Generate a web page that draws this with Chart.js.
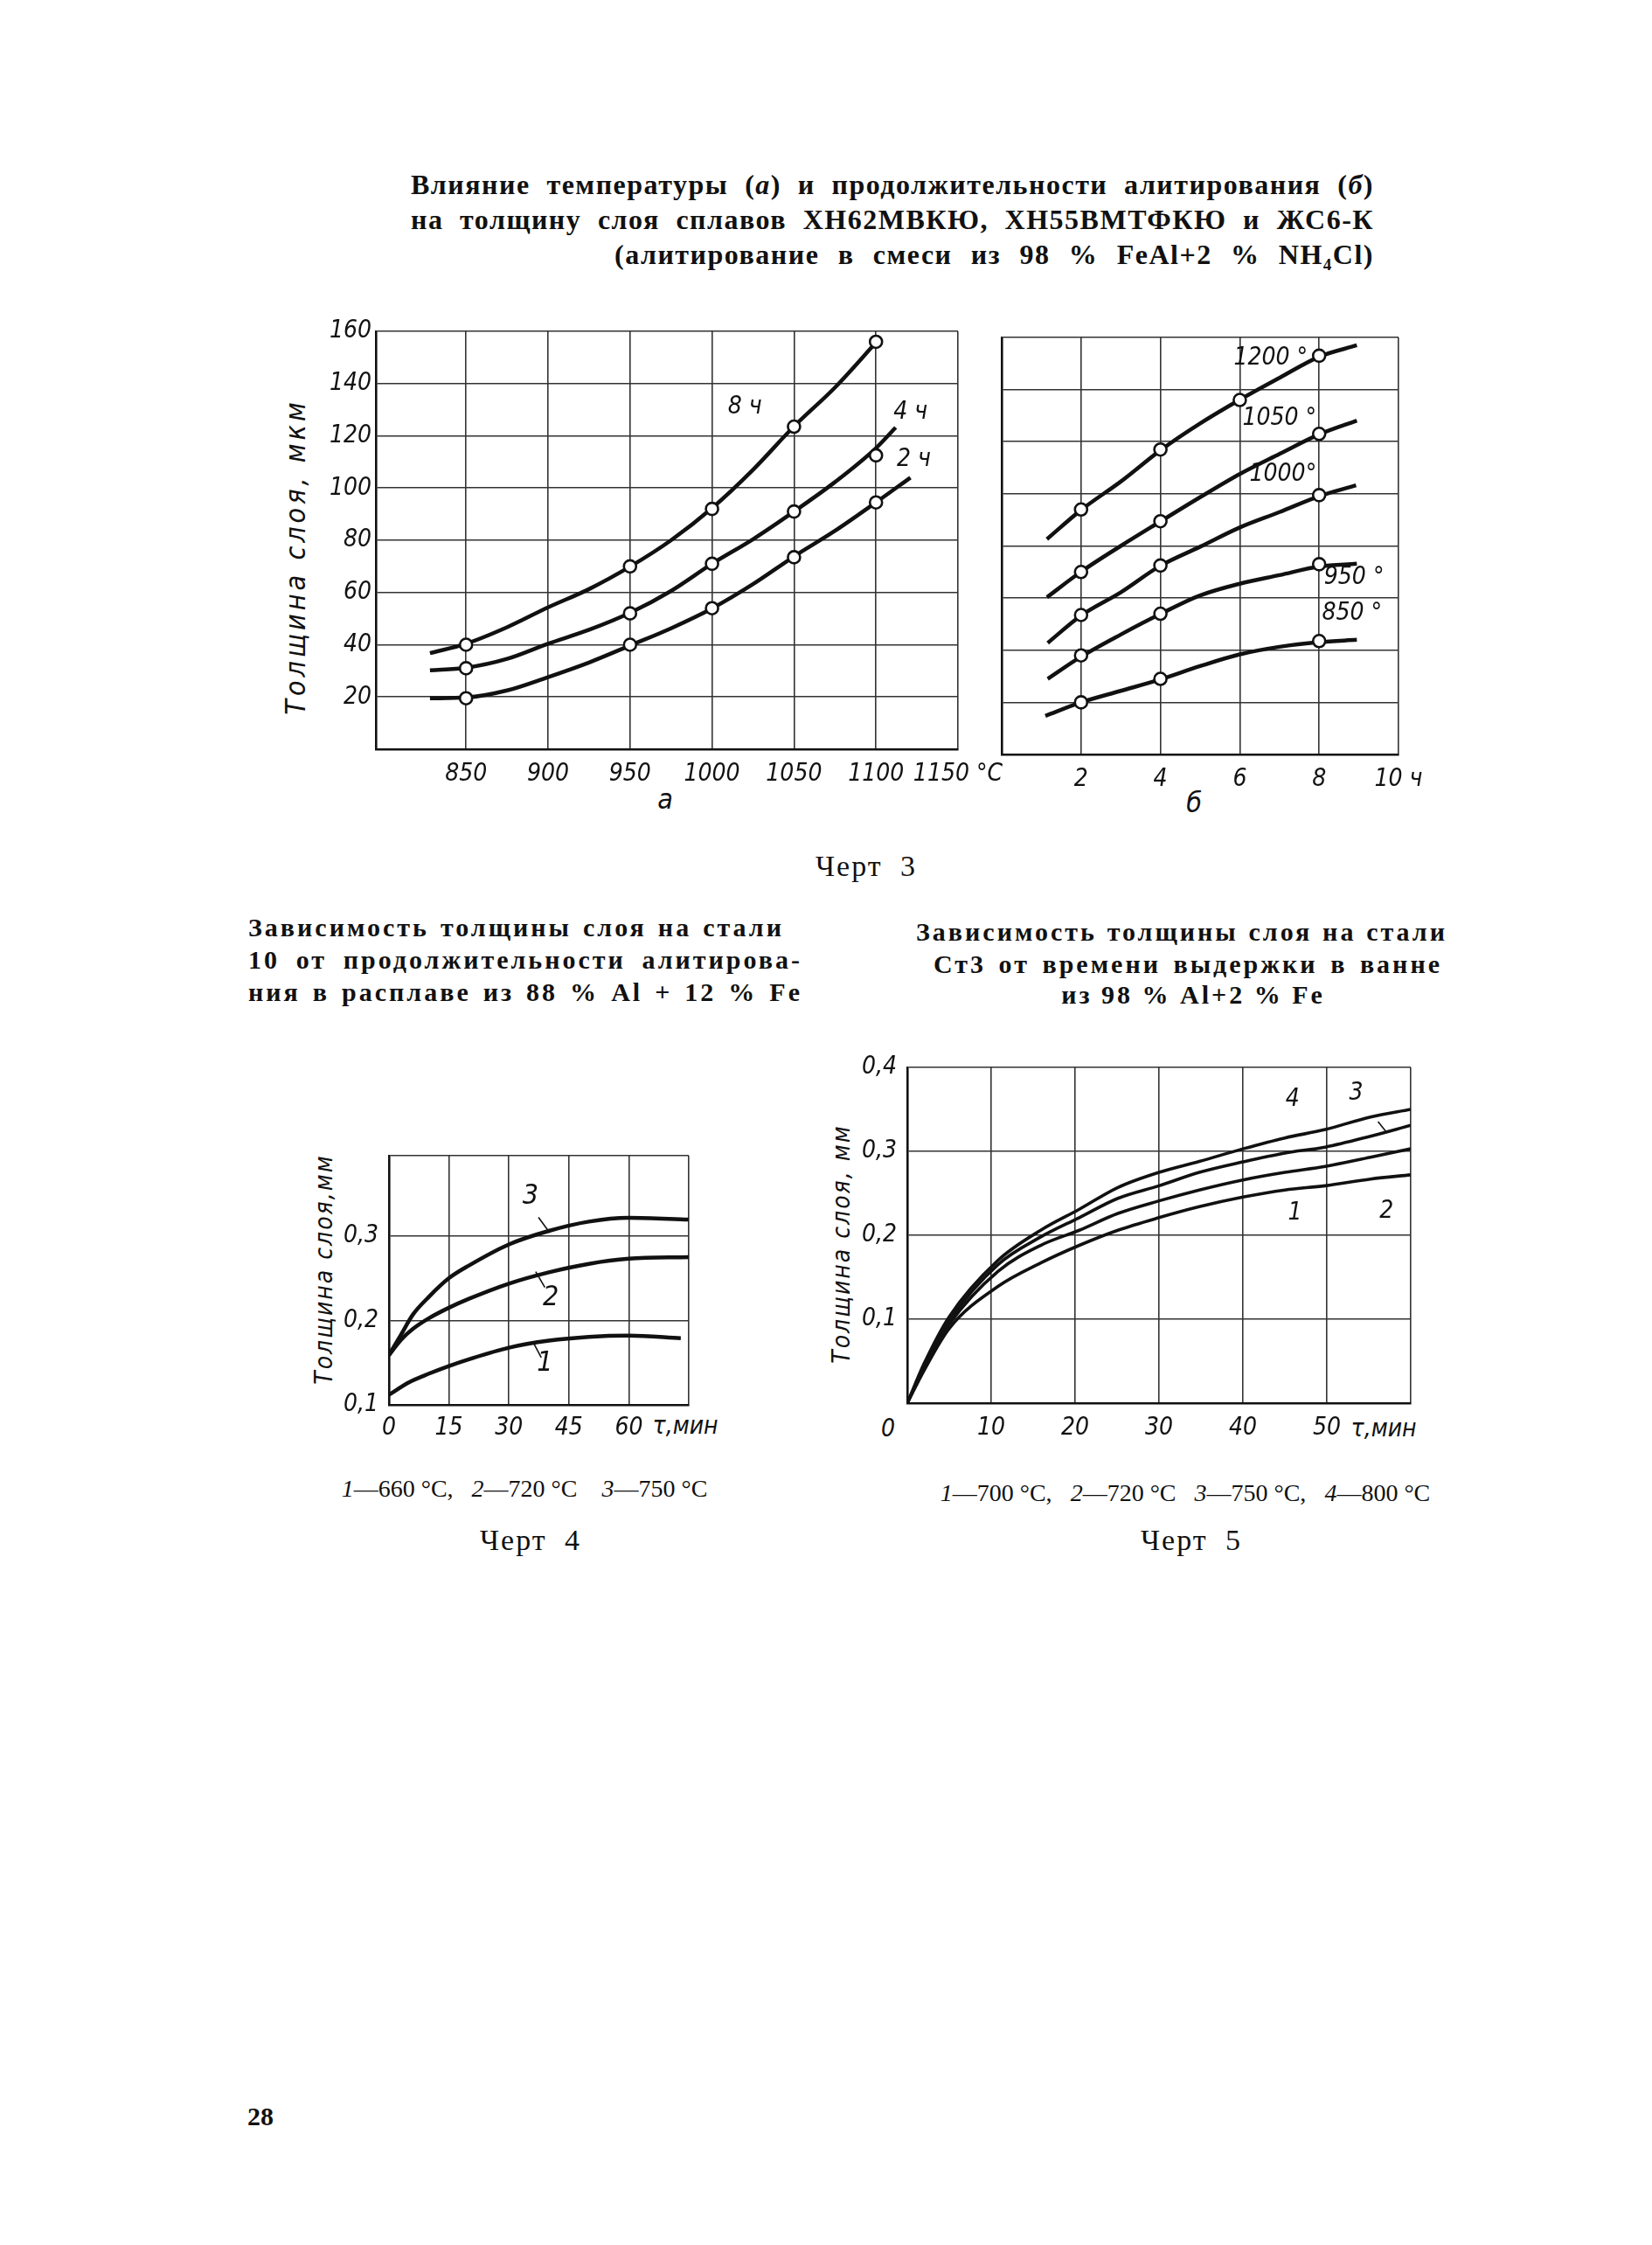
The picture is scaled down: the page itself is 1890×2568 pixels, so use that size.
<!DOCTYPE html>
<html lang="ru">
<head>
<meta charset="utf-8">
<title>Черт 3, 4, 5</title>
<script src="https://cdn.jsdelivr.net/npm/chart.js@4.4.1/dist/chart.umd.min.js"></script>
<style>
  html, body { margin: 0; padding: 0; background: #fff; }
  #page { position: relative; width: 1890px; height: 2568px; overflow: hidden; background: #fff; color: #111; }
  canvas { position: absolute; }
  .t { position: absolute; white-space: nowrap; line-height: 1; transform: translate(-50%, -50%); }
  .j { position: absolute; white-space: nowrap; text-align: justify; text-align-last: justify; line-height: 1.2; }
  .ax { font-family: "Liberation Sans Narrow", "DejaVu Sans Condensed", sans-serif; font-style: italic; }
  .rot { transform: translate(-50%, -50%) rotate(-90deg); }
  .h3 { font: bold 32px "Liberation Serif", "DejaVu Serif", serif; letter-spacing: 1.5px; }
  .hs { font: bold 30px "Liberation Serif", "DejaVu Serif", serif; letter-spacing: 3px; }
  .cap { font: 28px "Liberation Serif", "DejaVu Serif", serif; }
  .chert { font: 34px "Liberation Serif", "DejaVu Serif", serif; letter-spacing: 2px; word-spacing: 10px; }
</style>
</head>
<body>
<div id="page">
  <!-- Черт 3: заголовок -->
  <div class="j h3" style="left:470px; top:193px; width:1102px;">Влияние температуры (<i>а</i>) и продолжительности алитирования (<i>б</i>)</div>
  <div class="j h3" style="left:470px; top:233px; width:1102px;">на толщину слоя сплавов ХН62МВКЮ, ХН55ВМТФКЮ и ЖС6-К</div>
  <div class="j h3" style="left:703px; top:273px; width:869px;">(алитирование в смеси из 98 % FeAl+2 % NH<sub style="font-size:19px">4</sub>Cl)</div>

  <div class="t ax rot" style="left:338px; top:637px; font-size:32px; letter-spacing:4px;">Толщина слоя, мкм</div>
  <div class="t ax" style="left:761px; top:914px; font-size:32px;">а</div>
  <div class="t ax" style="left:1366px; top:918px; font-size:32px;">б</div>
  <div class="t chert" style="left:991px; top:991px;">Черт 3</div>

  <!-- Черт 4 -->
  <div class="j hs" style="left:284px; top:1044px; width:613px;">Зависимость толщины слоя на стали</div>
  <div class="j hs" style="left:284px; top:1081px; width:634px;">10 от продолжительности алитирова-</div>
  <div class="j hs" style="left:284px; top:1118px; width:634px;">ния в расплаве из 88 % Al + 12 % Fe</div>
  <div class="t ax rot" style="left:371px; top:1452px; font-size:28px; letter-spacing:2px;">Толщина слоя,мм</div>
  <div class="t ax" style="left:784px; top:1631px; font-size:28px;">τ,мин</div>
  <div class="t cap" style="left:600px; top:1703px;"><i>1</i>—660 °C,&nbsp;&nbsp; <i>2</i>—720 °C&nbsp;&nbsp;&nbsp; <i>3</i>—750 °C</div>
  <div class="t chert" style="left:607px; top:1762px;">Черт 4</div>

  <!-- Черт 5 -->
  <div class="j hs" style="left:1048px; top:1049px; width:608px;">Зависимость толщины слоя на стали</div>
  <div class="j hs" style="left:1068px; top:1086px; width:582px;">Ст3 от времени выдержки в ванне</div>
  <div class="t hs" style="left:1365px; top:1138px;">из 98 % Al+2 % Fe</div>
  <div class="t ax rot" style="left:963px; top:1423px; font-size:28px; letter-spacing:2px;">Толщина слоя, мм</div>
  <div class="t ax" style="left:1016px; top:1634px; font-size:28px;">0</div>
  <div class="t ax" style="left:1583px; top:1634px; font-size:28px;">τ,мин</div>
  <div class="t cap" style="left:1356px; top:1708px;"><i>1</i>—700 °C,&nbsp;&nbsp; <i>2</i>—720 °C&nbsp;&nbsp; <i>3</i>—750 °C,&nbsp;&nbsp; <i>4</i>—800 °C</div>
  <div class="t chert" style="left:1363px; top:1762px;">Черт 5</div>

  <div class="t" style="left:298px; top:2421px; font: bold 30px 'Liberation Serif', serif;">28</div>
</div>

<script>
// ---- Черт 3а: толщина слоя (мкм) от температуры (°C) ----
const tempTicks = [850, 900, 950, 1000, 1050, 1100, 1150];
const thickTicks = [0, 20, 40, 60, 80, 100, 120, 140, 160];

const t8h = [828, 850, 875, 900, 925, 950, 975, 1000, 1025, 1050, 1075, 1100];
const v8h = [36.8, 40.4, 46.7, 54.3, 61.3, 69.9, 80.0, 92.3, 107.0, 123.6, 138.5, 155.7];
const t4h = [828, 850, 875, 900, 925, 950, 975, 1000, 1025, 1050, 1075, 1100, 1112];
const v4h = [30.2, 31.2, 34.6, 40.4, 45.7, 52.2, 60.6, 71.0, 80.4, 91.0, 102.3, 115.3, 123.2];
const t2h = [828, 850, 875, 900, 925, 950, 975, 1000, 1025, 1050, 1075, 1100, 1121];
const v2h = [19.5, 19.8, 22.5, 27.6, 33.2, 39.7, 46.3, 53.9, 63.2, 73.8, 83.6, 94.5, 104.0];

const mkTemp = [850, 950, 1000, 1050, 1100];
const mk8h = [40, 70, 92, 123.5, 156];
const mk4h = [31, 52, 71, 91, 112.5];
const mk2h = [19.5, 40, 54, 73.5, 94.5];

// ---- Черт 3б: толщина слоя (мкм) от продолжительности (ч) ----
const hourTicks = [2, 4, 6, 8, 10];
const hrs = [2, 3, 4, 5, 6, 7, 8];
const h1200 = [1.14].concat(hrs, [8.95]);
const v1200 = [82.6, 93.8, 104.7, 116.7, 127.0, 136.1, 144.5, 152.6, 157.0];
const h1050 = [1.14].concat(hrs, [8.95]);
const v1050 = [60.3, 70.1, 80.0, 89.4, 98.7, 107.6, 115.3, 122.8, 128.1];
const h1000 = [1.16].concat(hrs, [8.93]);
const v1000 = [42.8, 53.3, 62.2, 72.4, 79.7, 87.1, 93.0, 99.1, 103.3];
const h950 = [1.16].concat(hrs, [8.95]);
const v950 = [29.0, 37.5, 46.0, 53.9, 61.0, 65.5, 68.8, 72.1, 73.2];
const h850 = [1.1].concat(hrs, [8.95]);
const v850 = [14.8, 20.0, 24.4, 28.8, 33.9, 38.4, 41.3, 43.1, 44.0];

const mkH1200 = [2, 4, 6, 8];
const mk1200 = [94, 117, 136, 153];
const mkH = [2, 4, 8];
const mk1050 = [70, 89.5, 123];
const mk1000 = [53.5, 72.5, 99.5];
const mk950 = [38, 54, 73];
const mk850 = [20, 29, 43.5];

// ---- Черт 4: сталь 10, толщина (мм) от времени (мин) ----
const minTicks4 = [0, 15, 30, 45, 60, 75];
const mmTicks4 = [0.1, 0.2, 0.3, 0.395];
const c4t3 = [0, 3, 6, 10, 15, 20, 30, 40, 50, 60, 75];
const c4v3 = [0.159, 0.183, 0.207, 0.228, 0.250, 0.265, 0.290, 0.306, 0.317, 0.3215, 0.3195];
const c4t2 = [0, 3, 6, 10, 15, 20, 30, 40, 50, 60, 75];
const c4v2 = [0.159, 0.177, 0.190, 0.2026, 0.215, 0.2256, 0.2436, 0.257, 0.267, 0.273, 0.275];
const c4t1 = [0, 5, 10, 15, 20, 30, 40, 50, 60, 73];
const c4v1 = [0.112, 0.1267, 0.137, 0.146, 0.154, 0.1677, 0.176, 0.1805, 0.182, 0.179];
const lead4 = {
  '3': [[37.4, 0.322], [40.2, 0.304]],
  '2': [[36.7, 0.2577], [39.0, 0.239]],
  '1': [[36.1, 0.1738], [38.1, 0.156]]
};

// ---- Черт 5: Ст3, толщина (мм) от времени выдержки (мин) ----
const minTicks5 = [0, 10, 20, 30, 40, 50, 60];
const mmTicks5 = [0, 0.1, 0.2, 0.3, 0.4];
const c5t = [0, 2, 5, 10.8, 15.9, 20.5, 25.1, 30, 34.8, 40, 45, 49.8, 55.2, 60];
const c5v4 = [0, 0.047, 0.103, 0.170, 0.206, 0.231, 0.257, 0.275, 0.288, 0.303, 0.316, 0.326, 0.341, 0.350];
const c5v3 = [0, 0.0445, 0.098, 0.165, 0.198, 0.221, 0.244, 0.259, 0.275, 0.2875, 0.298, 0.305, 0.318, 0.331];
const c5v2 = [0, 0.042, 0.094, 0.157, 0.188, 0.206, 0.226, 0.241, 0.254, 0.266, 0.275, 0.282, 0.293, 0.303];
const c5v1 = [0, 0.039, 0.089, 0.139, 0.167, 0.188, 0.206, 0.221, 0.234, 0.2455, 0.254, 0.259, 0.267, 0.272];
const lead5 = [[56.1, 0.3355], [57.1, 0.323]];

const INK = '#111';
const AXFONT = '"Liberation Sans Narrow", "DejaVu Sans Condensed", sans-serif';
const comma = v => v.toFixed(1).replace('.', ',');
const pts = (xs, ys) => xs.map((x, i) => ({ x: x, y: ys[i] }));

// текстовые подписи у кривых, в координатах данных
const textLabels = {
  id: 'textLabels',
  afterDatasetsDraw(chart, args, opts) {
    const ctx = chart.ctx, xs = chart.scales.x, ys = chart.scales.y;
    (opts.items || []).forEach(it => {
      ctx.save();
      ctx.font = 'italic ' + (it.size || 28) + 'px ' + AXFONT;
      ctx.fillStyle = INK;
      ctx.textAlign = 'center';
      ctx.textBaseline = 'middle';
      ctx.fillText(it.text, xs.getPixelForValue(it.x), ys.getPixelForValue(it.y));
      ctx.restore();
    });
  }
};

function axis(min, max, ticks, label, opts) {
  return {
    type: 'linear', min: min, max: max,
    afterBuildTicks: s => { s.ticks = ticks.map(v => ({ value: v })); },
    afterFit: s => {
      if (opts.size.w !== undefined) s.width = opts.size.w;
      if (opts.size.h !== undefined) s.height = opts.size.h;
      s.paddingLeft = 0; s.paddingRight = 0; s.paddingTop = 0; s.paddingBottom = 0;
    },
    grid: { color: '#333', lineWidth: 1.6, drawTicks: false },
    border: { color: INK, width: 2.6 },
    ticks: {
      display: opts.show !== false,
      autoSkip: false, maxRotation: 0,
      padding: opts.pad || 8,
      color: INK,
      font: { family: AXFONT, size: 28, style: 'italic' },
      callback: v => label(v)
    }
  };
}

function curve(xs, ys, w) {
  return { type: 'line', data: pts(xs, ys), borderColor: INK, borderWidth: w || 4.5,
           pointRadius: 0, cubicInterpolationMode: 'monotone', fill: false, order: 2 };
}
function markers(xs, ys) {
  return { type: 'scatter', data: pts(xs, ys), showLine: false, pointRadius: 7,
           pointBackgroundColor: '#fff', pointBorderColor: INK, pointBorderWidth: 2.6, order: 1 };
}
function leader(p) {
  return { type: 'line', data: p.map(q => ({ x: q[0], y: q[1] })), borderColor: INK,
           borderWidth: 1.6, pointRadius: 0, fill: false, order: 3 };
}

// area = прямоугольник поля графика на странице
function makeChart(area, pad, datasets, scales, items) {
  const c = document.createElement('canvas');
  const w = area.right - area.left + pad.yW + pad.right;
  const h = area.bottom - area.top + pad.top + pad.xH;
  c.width = w; c.height = h;
  c.style.left = (area.left - pad.yW) + 'px';
  c.style.top = (area.top - pad.top) + 'px';
  document.getElementById('page').appendChild(c);
  return new Chart(c.getContext('2d'), {
    type: 'line',
    data: { datasets: datasets },
    options: {
      responsive: false, animation: false, events: [],
      layout: { padding: { left: 0, top: pad.top, right: pad.right, bottom: 0 } },
      plugins: { legend: { display: false }, tooltip: { enabled: false }, textLabels: { items: items } },
      scales: scales
    },
    plugins: [textLabels]
  });
}

// Черт 3а
makeChart({ left: 430, top: 379, right: 1096, bottom: 857 }, { yW: 100, xH: 60, top: 22, right: 60 },
  [curve(t8h, v8h), curve(t4h, v4h), curve(t2h, v2h),
   markers(mkTemp, mk8h), markers(mkTemp, mk4h), markers(mkTemp, mk2h)],
  {
    x: axis(795, 1150, tempTicks, v => v === 1150 ? '1150 °C' : String(v), { size: { h: 60 }, pad: 12 }),
    y: axis(0, 160, thickTicks, v => v === 0 ? '' : String(v), { size: { w: 100 }, pad: 5 })
  },
  [{ x: 1020, y: 131, text: '8 ч' }, { x: 1121, y: 129, text: '4 ч' }, { x: 1123, y: 111, text: '2 ч' }]
);

// Черт 3б
makeChart({ left: 1146, top: 386, right: 1600, bottom: 863 }, { yW: 10, xH: 60, top: 22, right: 50 },
  [curve(h1200, v1200), curve(h1050, v1050), curve(h1000, v1000), curve(h950, v950), curve(h850, v850),
   markers(mkH1200, mk1200), markers(mkH, mk1050), markers(mkH, mk1000), markers(mkH, mk950), markers(mkH, mk850)],
  {
    x: axis(0, 10, hourTicks, v => v === 10 ? '10 ч' : String(v), { size: { h: 60 }, pad: 12 }),
    y: axis(0, 160, thickTicks, v => '', { size: { w: 10 }, show: false })
  },
  [{ x: 6.78, y: 152, text: '1200 °' }, { x: 7.0, y: 129, text: '1050 °' }, { x: 7.09, y: 107.4, text: '1000°' },
   { x: 8.88, y: 68, text: '950 °' }, { x: 8.83, y: 54, text: '850 °' }]
);

// Черт 4
makeChart({ left: 445, top: 1322, right: 788, bottom: 1607 }, { yW: 80, xH: 60, top: 22, right: 40 },
  [curve(c4t3, c4v3), curve(c4t2, c4v2), curve(c4t1, c4v1),
   leader(lead4['3']), leader(lead4['2']), leader(lead4['1'])],
  {
    x: axis(0, 75, minTicks4, v => v === 75 ? '' : String(v), { size: { h: 60 }, pad: 10 }),
    y: axis(0.1, 0.395, mmTicks4, v => v > 0.39 ? '' : comma(v), { size: { w: 80 }, pad: 12 })
  },
  [{ x: 35.4, y: 0.347, text: '3', size: 32 }, { x: 40.5, y: 0.227, text: '2', size: 32 }, { x: 39, y: 0.149, text: '1', size: 32 }]
);

// Черт 5
makeChart({ left: 1038, top: 1221, right: 1614, bottom: 1605 }, { yW: 80, xH: 60, top: 22, right: 50 },
  [curve(c5t, c5v4, 3.6), curve(c5t, c5v3, 3.6), curve(c5t, c5v2, 3.6), curve(c5t, c5v1, 3.6), leader(lead5)],
  {
    x: axis(0, 60, minTicks5, v => (v === 0 || v === 60) ? '' : String(v), { size: { h: 60 }, pad: 12 }),
    y: axis(0, 0.4, mmTicks5, v => v === 0 ? '' : comma(v), { size: { w: 80 }, pad: 12 })
  },
  [{ x: 45.9, y: 0.362, text: '4' }, { x: 53.5, y: 0.369, text: '3' }, { x: 46.2, y: 0.226, text: '1' }, { x: 57.1, y: 0.228, text: '2' }]
);
</script>
</body>
</html>
